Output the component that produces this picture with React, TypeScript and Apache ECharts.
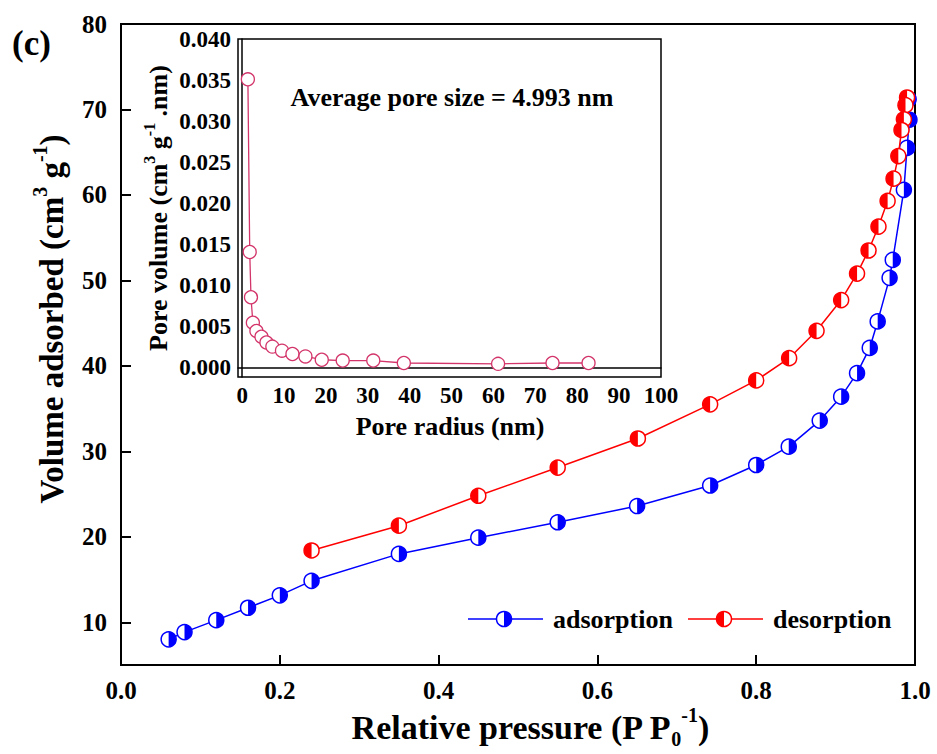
import React, { useEffect, useRef } from "react";
import * as echarts from "echarts";

// ---------- data ----------
const adsX = [0.06, 0.08, 0.12, 0.16, 0.2, 0.24, 0.35, 0.45, 0.55, 0.65, 0.742, 0.8, 0.841, 0.88, 0.907, 0.927, 0.943, 0.953, 0.968, 0.972, 0.986, 0.99, 0.993, 0.992];
const adsY = [8.0, 8.85, 10.25, 11.7, 13.15, 14.85, 18.0, 19.9, 21.7, 23.6, 26.0, 28.4, 30.55, 33.6, 36.4, 39.15, 42.1, 45.2, 50.3, 52.4, 60.6, 65.5, 68.8, 71.2];
const desX = [0.99, 0.988, 0.986, 0.983, 0.979, 0.973, 0.9655, 0.954, 0.9415, 0.927, 0.907, 0.876, 0.8415, 0.8, 0.742, 0.651, 0.55, 0.45, 0.35, 0.24];
const desY = [71.4, 70.5, 68.85, 67.6, 64.55, 61.9, 59.3, 56.3, 53.5, 50.8, 47.7, 44.1, 40.9, 38.3, 35.5, 31.5, 28.1, 24.8, 21.3, 18.4];
const poreR = [1.36, 1.8, 2.1, 2.55, 3.4, 4.6, 5.8, 7.2, 9.5, 12.0, 15.1, 19.0, 24.0, 31.3, 38.6, 61.1, 74.1, 82.7];
const poreV = [0.0351, 0.0141, 0.0086, 0.0055, 0.0045, 0.0038, 0.0031, 0.0026, 0.0021, 0.0017, 0.0014, 0.001, 0.0009, 0.0009, 0.0006, 0.0005, 0.0006, 0.0006];
const mainYTicks = [10, 20, 30, 40, 50, 60, 70, 80];
const insetXTicks = [0, 10, 20, 30, 40, 50, 60, 70, 80, 90, 100];
const insetYTicks = [0, 0.005, 0.01, 0.015, 0.02, 0.025, 0.03, 0.035, 0.04];
const seriesNames = ["adsorption", "desorption"];

const FONT = '"Liberation Serif", "Times New Roman", serif';
const BLUE = "#0000ff";
const RED = "#ff0000";
const PINK = "#d3356b";

const pairs = (xs: number[], ys: number[]) => xs.map((x, i) => [x, ys[i]]);

function halfMarker(color: string, side: "left" | "right") {
  return (_params: any, api: any) => {
    const p = api.coord([api.value(0), api.value(1)]);
    const r = 7.5;
    const start = side === "right" ? -Math.PI / 2 : Math.PI / 2;
    return {
      type: "group",
      children: [
        { type: "circle", shape: { cx: p[0], cy: p[1], r }, style: { fill: "#fff", stroke: color, lineWidth: 1.5 } },
        {
          type: "sector",
          shape: { cx: p[0], cy: p[1], r0: 0, r, startAngle: start, endAngle: start + Math.PI, clockwise: true },
          style: { fill: color },
        },
      ],
    };
  };
}

function legendItem(x0: number, y: number, color: string, side: "left" | "right", label: string) {
  const start = side === "right" ? -Math.PI / 2 : Math.PI / 2;
  return [
    { type: "line", shape: { x1: x0, y1: y, x2: x0 + 75, y2: y }, style: { stroke: color, lineWidth: 1.5 } },
    { type: "circle", shape: { cx: x0 + 36, cy: y, r: 7.5 }, style: { fill: "#fff", stroke: color, lineWidth: 1.5 } },
    { type: "sector", shape: { cx: x0 + 36, cy: y, r0: 0, r: 7.5, startAngle: start, endAngle: start + Math.PI, clockwise: true }, style: { fill: color } },
    {
      type: "text",
      x: x0 + 85,
      y,
      style: { text: label, fontFamily: FONT, fontWeight: "bold", fontSize: 26, fill: "#000", align: "left", verticalAlign: "middle" },
    },
  ];
}

export default function App() {
  const ref = useRef<HTMLDivElement>(null);
  useEffect(() => {
    if (!ref.current) return;
    const chart = echarts.init(ref.current, undefined, { renderer: "svg" });
    const tickLabel = { fontFamily: FONT, fontWeight: "bold" as const, color: "#000" };
    const option: any = {
      animation: false,
      backgroundColor: "#fff",
      grid: [
        { left: 121, top: 24, width: 794, height: 641, show: true, borderColor: "#000", borderWidth: 2 },
        { left: 238, top: 39, width: 423, height: 338, show: true, borderColor: "#000", borderWidth: 1.5, backgroundColor: "#fff" },
      ],
      xAxis: [
        {
          type: "value", gridIndex: 0, min: 0, max: 1, interval: 0.2,
          axisLine: { show: true, lineStyle: { color: "#000", width: 2 } },
          axisTick: { show: true, inside: true, length: 10, lineStyle: { color: "#000", width: 2 } },
          axisLabel: { ...tickLabel, fontSize: 25, margin: 13, formatter: (v: number) => v.toFixed(1) },
          splitLine: { show: false },
        },
        {
          type: "value", gridIndex: 1, min: -1, max: 100,
          axisLine: { show: true, lineStyle: { color: "#000", width: 1.5 } },
          axisTick: { show: false },
          axisLabel: { ...tickLabel, fontSize: 23, margin: 7, customValues: insetXTicks, showMinLabel: true, showMaxLabel: true },
          splitLine: { show: false },
        },
      ],
      yAxis: [
        {
          type: "value", gridIndex: 0, min: 5, max: 80,
          axisLine: { show: true, lineStyle: { color: "#000", width: 2 } },
          axisTick: { show: true, inside: true, length: 10, lineStyle: { color: "#000", width: 2 }, customValues: mainYTicks },
          axisLabel: { ...tickLabel, fontSize: 25, margin: 14, customValues: mainYTicks },
          splitLine: { show: false },
        },
        {
          type: "value", gridIndex: 1, min: -0.0011, max: 0.04,
          axisLine: { show: true, lineStyle: { color: "#000", width: 1.5 } },
          axisTick: { show: false },
          axisLabel: { ...tickLabel, fontSize: 23, margin: 7, customValues: insetYTicks, formatter: (v: number) => v.toFixed(3) },
          splitLine: { show: false },
        },
      ],
      series: [
        {
          name: seriesNames[0], type: "line", xAxisIndex: 0, yAxisIndex: 0, data: pairs(adsX, adsY),
          symbol: "none", lineStyle: { color: BLUE, width: 1.5 }, z: 2,
        },
        {
          name: seriesNames[0] + " markers", type: "custom", xAxisIndex: 0, yAxisIndex: 0, data: pairs(adsX, adsY),
          encode: { x: 0, y: 1 }, renderItem: halfMarker(BLUE, "right"), clip: false, z: 3,
        },
        {
          name: seriesNames[1], type: "line", xAxisIndex: 0, yAxisIndex: 0, data: pairs(desX, desY),
          symbol: "none", lineStyle: { color: RED, width: 1.5 }, z: 4,
        },
        {
          name: seriesNames[1] + " markers", type: "custom", xAxisIndex: 0, yAxisIndex: 0, data: pairs(desX, desY),
          encode: { x: 0, y: 1 }, renderItem: halfMarker(RED, "left"), clip: false, z: 5,
        },
        {
          name: "pore", type: "line", xAxisIndex: 1, yAxisIndex: 1, data: pairs(poreR, poreV),
          symbol: "circle", symbolSize: 13, showAllSymbol: true,
          itemStyle: { color: "#fff", borderColor: PINK, borderWidth: 1.3 },
          lineStyle: { color: PINK, width: 1.3 }, z: 6,
        },
      ],
      graphic: [
        {
          type: "text", x: 12, y: 43,
          style: { text: "(c)", fontFamily: FONT, fontWeight: "bold", fontSize: 35, fill: "#000", align: "left", verticalAlign: "middle" },
        },
        {
          type: "text", x: 52, y: 319, rotation: Math.PI / 2,
          style: {
            text: "{n|Volume adsorbed (cm}{s|3}{n| g}{s|-1}{n|)}",
            align: "center", verticalAlign: "middle",
            rich: {
              n: { fontFamily: FONT, fontWeight: "bold", fontSize: 33, lineHeight: 44, verticalAlign: "middle", fill: "#000" },
              s: { fontFamily: FONT, fontWeight: "bold", fontSize: 20, lineHeight: 20, verticalAlign: "top", fill: "#000" },
            },
          },
        },
        {
          type: "text", x: 530, y: 727,
          style: {
            text: "{n|Relative pressure (P P}{b|0}{s|-1}{n|)}",
            align: "center", verticalAlign: "middle",
            rich: {
              n: { fontFamily: FONT, fontWeight: "bold", fontSize: 34, lineHeight: 44, verticalAlign: "middle", fill: "#000" },
              s: { fontFamily: FONT, fontWeight: "bold", fontSize: 20, lineHeight: 20, verticalAlign: "top", fill: "#000" },
              b: { fontFamily: FONT, fontWeight: "bold", fontSize: 20, lineHeight: 20, verticalAlign: "bottom", fill: "#000" },
            },
          },
        },
        {
          type: "text", x: 158, y: 208, rotation: Math.PI / 2,
          style: {
            text: "{n|Pore volume (cm}{s|3}{n| g}{s|-1}{n| .nm)}",
            align: "center", verticalAlign: "middle",
            rich: {
              n: { fontFamily: FONT, fontWeight: "bold", fontSize: 26, lineHeight: 34, verticalAlign: "middle", fill: "#000" },
              s: { fontFamily: FONT, fontWeight: "bold", fontSize: 16, lineHeight: 16, verticalAlign: "top", fill: "#000" },
            },
          },
        },
        {
          type: "text", x: 450, y: 426,
          style: { text: "Pore radius (nm)", fontFamily: FONT, fontWeight: "bold", fontSize: 26, fill: "#000", align: "center", verticalAlign: "middle" },
        },
        {
          type: "text", x: 452, y: 97,
          style: { text: "Average pore size = 4.993 nm", fontFamily: FONT, fontWeight: "bold", fontSize: 26, fill: "#000", align: "center", verticalAlign: "middle" },
        },
        ...legendItem(468, 619, BLUE, "right", seriesNames[0]),
        ...legendItem(688, 619, RED, "left", seriesNames[1]),
      ],
    };
    chart.setOption(option);
    return () => chart.dispose();
  }, []);
  return <div ref={ref} style={{ position: "fixed", left: 0, top: 0, width: 937, height: 754 }} />;
}
